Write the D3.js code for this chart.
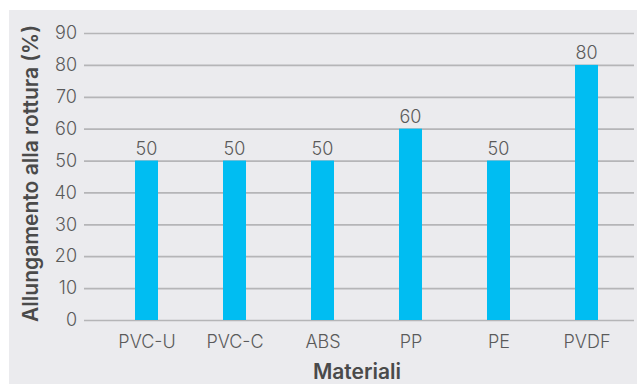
<!DOCTYPE html>
<html>
<head>
<meta charset="utf-8">
<script src="https://cdn.jsdelivr.net/npm/d3@7"></script>
<style>
  html, body { margin: 0; padding: 0; background: #fff; }
  svg { display: block; }
</style>
</head>
<body>
<svg id="chart" width="637" height="384"></svg>
<script>
// Elongation at break by material
const materials = ["PVC-U", "PVC-C", "ABS", "PP", "PE", "PVDF"];
const elongation = [50, 50, 50, 60, 50, 80];
const yTicks = [0, 10, 20, 30, 40, 50, 60, 70, 80, 90];
const yTitle = "Allungamento alla rottura (%)";
const xTitle = "Materiali";

const W = 637, H = 384;
const font = "Inter, 'Noto Sans', sans-serif";
const svg = d3.select("#chart");

// panel background
svg.append("rect")
  .attr("x", 9).attr("y", 10)
  .attr("width", W - 9).attr("height", H - 10)
  .attr("fill", "#ebebee");

const plot = { left: 84, right: 634, top: 33, bottom: 320 };

const y = d3.scaleLinear().domain([0, 90]).range([plot.bottom, plot.top]);
const x = d3.scalePoint().domain(materials).range([102.5, 630.5]).padding(0.5);
const barW = 23;

// horizontal grid lines with tick labels
const yAxis = d3.axisLeft(y)
  .tickValues(yTicks)
  .tickSize(-(plot.right - plot.left))
  .tickPadding(7)
  .tickFormat(d3.format("d"));

const gy = svg.append("g")
  .attr("transform", `translate(${plot.left},0)`)
  .call(yAxis);
gy.select(".domain").remove();
gy.selectAll(".tick line")
  .attr("stroke", "#b5b5b7")
  .attr("stroke-width", 1.7);
gy.selectAll(".tick text")
  .attr("fill", "#5a5a5a")
  .attr("font-family", font)
  .attr("font-weight", 300)
  .attr("font-size", 18);

// bars
svg.append("g").selectAll("rect")
  .data(materials)
  .join("rect")
  .attr("x", d => x(d) - barW / 2)
  .attr("y", (d, i) => y(elongation[i]))
  .attr("width", barW)
  .attr("height", (d, i) => y(0) - y(elongation[i]))
  .attr("fill", "#00bdf2");

// value labels
svg.append("g").selectAll("text")
  .data(materials)
  .join("text")
  .attr("x", d => x(d))
  .attr("y", (d, i) => y(elongation[i]) - 6)
  .attr("text-anchor", "middle")
  .attr("fill", "#5a5a5a")
  .attr("font-family", font)
  .attr("font-weight", 300)
  .attr("font-size", 18)
  .text((d, i) => elongation[i]);

// category axis
const xAxis = d3.axisBottom(x).tickSize(0).tickPadding(15);
const gx = svg.append("g")
  .attr("transform", `translate(0,${plot.bottom})`)
  .call(xAxis);
gx.select(".domain").remove();
gx.selectAll(".tick text")
  .attr("fill", "#5a5a5a")
  .attr("font-family", font)
  .attr("font-weight", 300)
  .attr("font-size", 18);

// axis titles
svg.append("text")
  .attr("x", (plot.left + plot.right) / 2 - 2)
  .attr("y", 379)
  .attr("text-anchor", "middle")
  .attr("fill", "#4a4a4a")
  .attr("font-family", font)
  .attr("font-weight", 600)
  .attr("font-size", 21)
  .text(xTitle);

svg.append("text")
  .attr("transform", `translate(38,${(30 + 317) / 2}) rotate(-90)`)
  .attr("text-anchor", "middle")
  .attr("fill", "#4a4a4a")
  .attr("font-family", font)
  .attr("font-weight", 600)
  .attr("font-size", 21)
  .text(yTitle);
</script>
</body>
</html>
